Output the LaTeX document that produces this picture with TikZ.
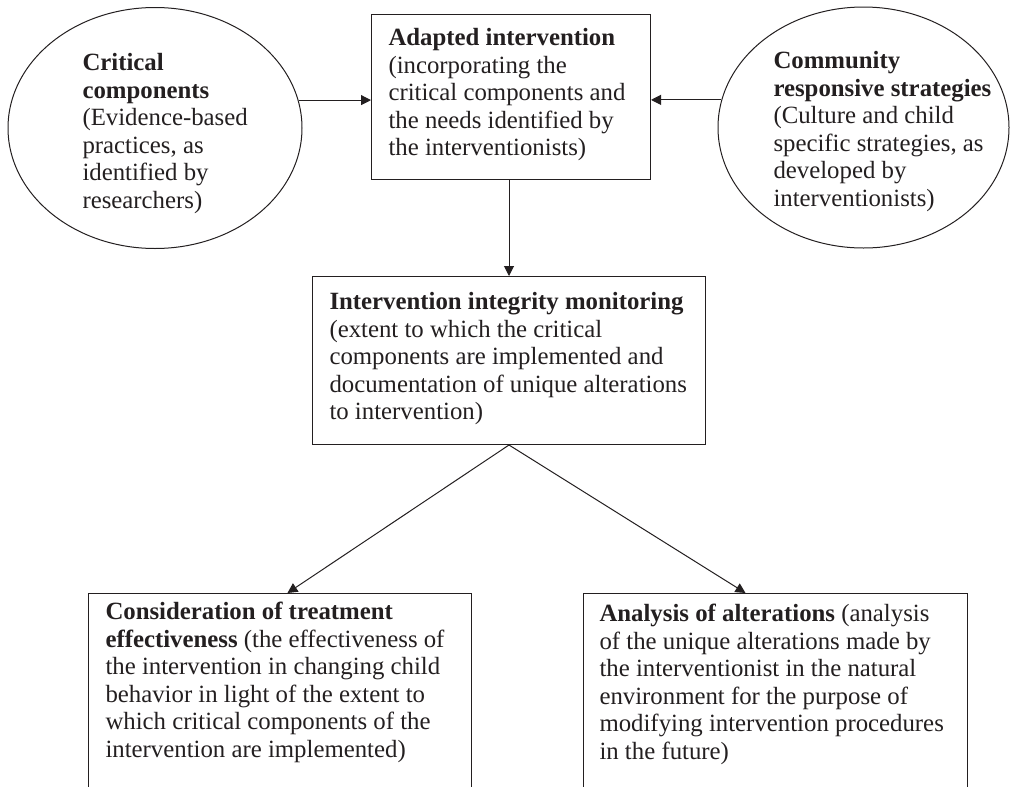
\documentclass[tikz,border=0pt]{standalone}
\usepackage{fontspec}
\setmainfont{Liberation Serif}
\usetikzlibrary{arrows.meta, shapes.geometric}
\definecolor{ink}{RGB}{35,31,32}

\begin{document}
\begin{tikzpicture}[x=0.75pt, y=-0.75pt, >={Triangle[length=7.5pt, width=7.5pt]},
      line width=0.75pt, color=ink,
      blk/.style={draw, rectangle, anchor=north west, inner sep=0pt},
      ell/.style={draw, ellipse, inner sep=0pt},
      txt/.style={anchor=north west, inner sep=0pt, align=left,
                  font=\fontsize{18.6}{20.6}\selectfont},
      arr/.style={->}]

    % ---- Page (bottom boxes run off the lower edge) ----
    \path[use as bounding box, clip] (0,0) rectangle (1011,786);

    % ---- Sources ----
    \node[ell, minimum width=220.5pt, minimum height=180.75pt] (crit) at (155,128) {};
    \node[ell, minimum width=218.25pt, minimum height=180.75pt] (comm) at (863.5,127.5) {};

    % ---- Boxes ----
    \node[blk, minimum width=209.25pt, minimum height=123.75pt] (adapt) at (371,14) {};
    \node[blk, minimum width=294.75pt, minimum height=126pt] (integ) at (312,276) {};
    \node[blk, minimum width=287.25pt, minimum height=180pt] (effect) at (88,593) {};
    \node[blk, minimum width=288pt, minimum height=180pt] (alter) at (583,593) {};

    % ---- Texts ----
    \node[txt] (crit-t) at (82,53) {\textbf{Critical}\\\textbf{components}\\(Evidence-based\\practices, as\\identified by\\researchers)};
    \node[txt] (comm-t) at (773,51) {\textbf{Community}\\\textbf{responsive strategies}\\(Culture and child\\specific strategies, as\\developed by\\interventionists)};
    \node[txt] (adapt-t) at (388,28) {\textbf{Adapted intervention}\\(incorporating the\\critical components and\\the needs identified by\\the interventionists)};
    \node[txt] (integ-t) at (329,292) {\textbf{Intervention integrity monitoring}\\(extent to which the critical\\components are implemented and\\documentation of unique alterations\\to intervention)};
    \node[txt] (effect-t) at (105,602) {\textbf{Consideration of treatment}\\\textbf{effectiveness} (the effectiveness of\\the intervention in changing child\\behavior in light of the extent to\\which critical components of the\\intervention are implemented)};
    \node[txt] (alter-t) at (599,604) {\textbf{Analysis of alterations} (analysis\\of the unique alterations made by\\the interventionist in the natural\\environment for the purpose of\\modifying intervention procedures\\in the future)};

    % ---- Connectors ----
    \draw[arr] (crit.11) -- (crit.11 -| adapt.west);
    \draw[arr] (comm.169) -- (comm.169 -| adapt.east);
    \draw[arr] (integ.north |- adapt.south) -- (integ.north);
    \draw[arr] (integ.south) -- ([xshift=5.6pt]effect.north);
    \draw[arr] (integ.south) -- ([xshift=-22.5pt]alter.north);

\end{tikzpicture}
\end{document}
